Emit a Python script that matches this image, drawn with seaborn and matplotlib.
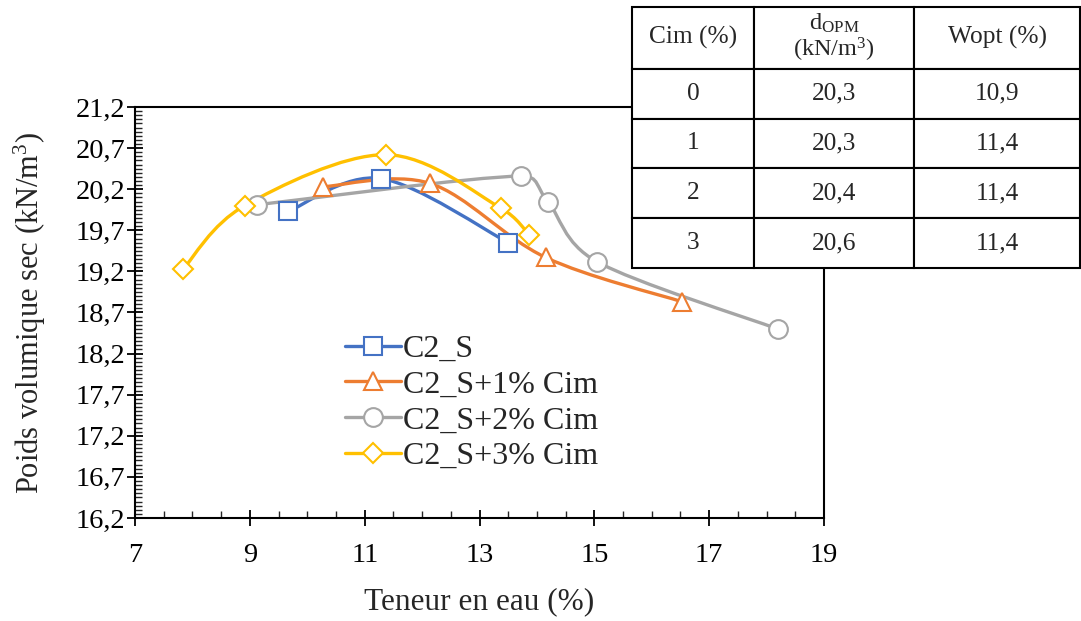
import numpy as np
import seaborn as sns
import matplotlib
matplotlib.use("Agg")
import matplotlib.pyplot as plt
from matplotlib.path import Path
from matplotlib.patches import PathPatch
from matplotlib.lines import Line2D
from matplotlib.ticker import FuncFormatter

# data (teneur en eau %, poids volumique kN/m3)
series_names = ["C2_S", "C2_S+1% Cim", "C2_S+2% Cim", "C2_S+3% Cim"]
w_c2s = [9.67, 11.28, 13.50]
g_c2s = [19.93, 20.33, 19.55]
w_cim1 = [10.28, 12.14, 14.15, 16.53]
g_cim1 = [20.23, 20.27, 19.37, 18.83]
w_cim2 = [9.12, 13.73, 14.19, 15.04, 18.19]
g_cim2 = [20.01, 20.36, 20.05, 19.32, 18.50]
w_cim3 = [7.84, 8.91, 11.37, 13.37, 13.87]
g_cim3 = [19.23, 20.00, 20.62, 19.97, 19.64]

# table in the top right corner
table_header = ["Cim (%)", "d$_{\\mathrm{OPM}}$\n(kN/m$^3$)", "Wopt (%)"]
table_cim = ["0", "1", "2", "3"]
table_dopm = ["20,3", "20,3", "20,4", "20,6"]
table_wopt = ["10,9", "11,4", "11,4", "11,4"]

colors = ["#4472C4", "#ED7D31", "#A5A5A5", "#FFC000"]
markers = ["s", "^", "o", "D"]
msizes = [13.5, 13.5, 13.5, 9.8]

sns.set_style("ticks")
plt.rcParams["font.family"] = ["Liberation Serif", "DejaVu Serif"]
plt.rcParams["mathtext.fontset"] = "custom"
plt.rcParams["mathtext.rm"] = "Liberation Serif"
plt.rcParams["mathtext.it"] = "Liberation Serif:italic"


def smooth_path(ax, xs, ys):
    # excel-like smoothed line, built in screen space, handles kept short
    pts = ax.transData.transform(np.column_stack([xs, ys]))
    ext = np.vstack([pts[0], pts, pts[-1]])
    verts = [pts[0]]
    codes = [Path.MOVETO]
    for i in range(len(pts) - 1):
        p0, p1, p2, p3 = ext[i], ext[i + 1], ext[i + 2], ext[i + 3]
        seg = np.linalg.norm(p2 - p1)
        t1 = (p2 - p0) / 6
        t2 = (p3 - p1) / 6
        n1, n2 = np.linalg.norm(t1), np.linalg.norm(t2)
        if n1 > 0.5 * seg:
            t1 = t1 * 0.5 * seg / n1
        if n2 > 0.5 * seg:
            t2 = t2 * 0.5 * seg / n2
        verts += [p1 + t1, p2 - t2, p2]
        codes += [Path.CURVE4] * 3
    verts = ax.transData.inverted().transform(np.array(verts))
    return Path(verts, codes)


fig = plt.figure(figsize=(10.81, 6.21), dpi=100)
ax = fig.add_axes([0.1249, 0.1659, 0.6374, 0.6618])
ax.set_xlim(7, 19)
ax.set_ylim(16.2, 21.2)

all_w = [w_c2s, w_cim1, w_cim2, w_cim3]
all_g = [g_c2s, g_cim1, g_cim2, g_cim3]

for w, g, c, m, ms in zip(all_w, all_g, colors, markers, msizes):
    ax.add_patch(PathPatch(smooth_path(ax, w, g), facecolor="none", edgecolor=c,
                           lw=2.4, zorder=2))
    sns.lineplot(x=w, y=g, ax=ax, linestyle="", marker=m, markersize=ms,
                 markerfacecolor="white", markeredgecolor=c,
                 markeredgewidth=1.5, color=c, zorder=3)

ax.set_xlim(7, 19)
ax.set_ylim(16.2, 21.2)
ax.set_xticks(np.arange(7, 19.1, 2))
ax.set_xticks(np.arange(7, 19.01, 0.5), minor=True)
ax.set_yticks(np.arange(16.2, 21.21, 0.5))
ax.set_yticks(np.arange(16.2, 21.21, 0.05), minor=True)
ax.xaxis.set_major_formatter(FuncFormatter(lambda v, p: f"{v:.0f}"))
ax.yaxis.set_major_formatter(FuncFormatter(lambda v, p: f"{v:.1f}".replace(".", ",")))
ax.tick_params(which="major", direction="inout", length=12, width=1.3,
               labelsize=20.5, colors="black")
ax.tick_params(axis="x", which="major", pad=12)
ax.tick_params(axis="y", which="major", pad=1)
ax.tick_params(which="minor", direction="in", length=5, width=1.0)
for sp in ax.spines.values():
    sp.set_linewidth(1.5)
    sp.set_color("black")

ax.set_xlabel("Teneur en eau (%)", fontsize=22.5)
ax.set_ylabel("Poids volumique sec (kN/m$^3$)", fontsize=22)
ax.xaxis.set_label_coords(0.5, -0.168)
ax.yaxis.set_label_coords(-0.127, 0.5)

handles = [Line2D([], [], color=c, lw=2.4, marker=m, markersize=ms,
                  markerfacecolor="white", markeredgecolor=c, markeredgewidth=1.5)
           for c, m, ms in zip(colors, markers, msizes)]
ax.legend(handles, series_names, loc="upper left", bbox_to_anchor=(0.295, 0.462),
          frameon=False, fontsize=23, handlelength=1.75, handletextpad=0.08,
          labelspacing=0.2, borderpad=0.2, borderaxespad=0)

# table drawn over the top right corner
tax = fig.add_axes([0.5846, 0.5684, 0.4146, 0.4203])
tax.axis("off")
rows = [[a, b, c] for a, b, c in zip(table_cim, table_dopm, table_wopt)]
tab = tax.table(cellText=rows, colLabels=table_header, cellLoc="center",
                bbox=[0, 0, 1, 1])
tab.auto_set_font_size(False)
col_w = [122, 160, 166]
for (r, cidx), cell in tab.get_celld().items():
    cell.set_width(col_w[cidx])
    cell.set_height(62 if r == 0 else 50)
    cell.set_linewidth(1.5)
    cell.set_edgecolor("black")
    cell.set_facecolor("white")
    cell.get_text().set_fontsize(18.3)
hdr = tab.get_celld()[(0, 1)].get_text()
hdr.set_fontsize(17.5)
hdr.set_linespacing(1.05)

fig.savefig("out.png", dpi=100)
